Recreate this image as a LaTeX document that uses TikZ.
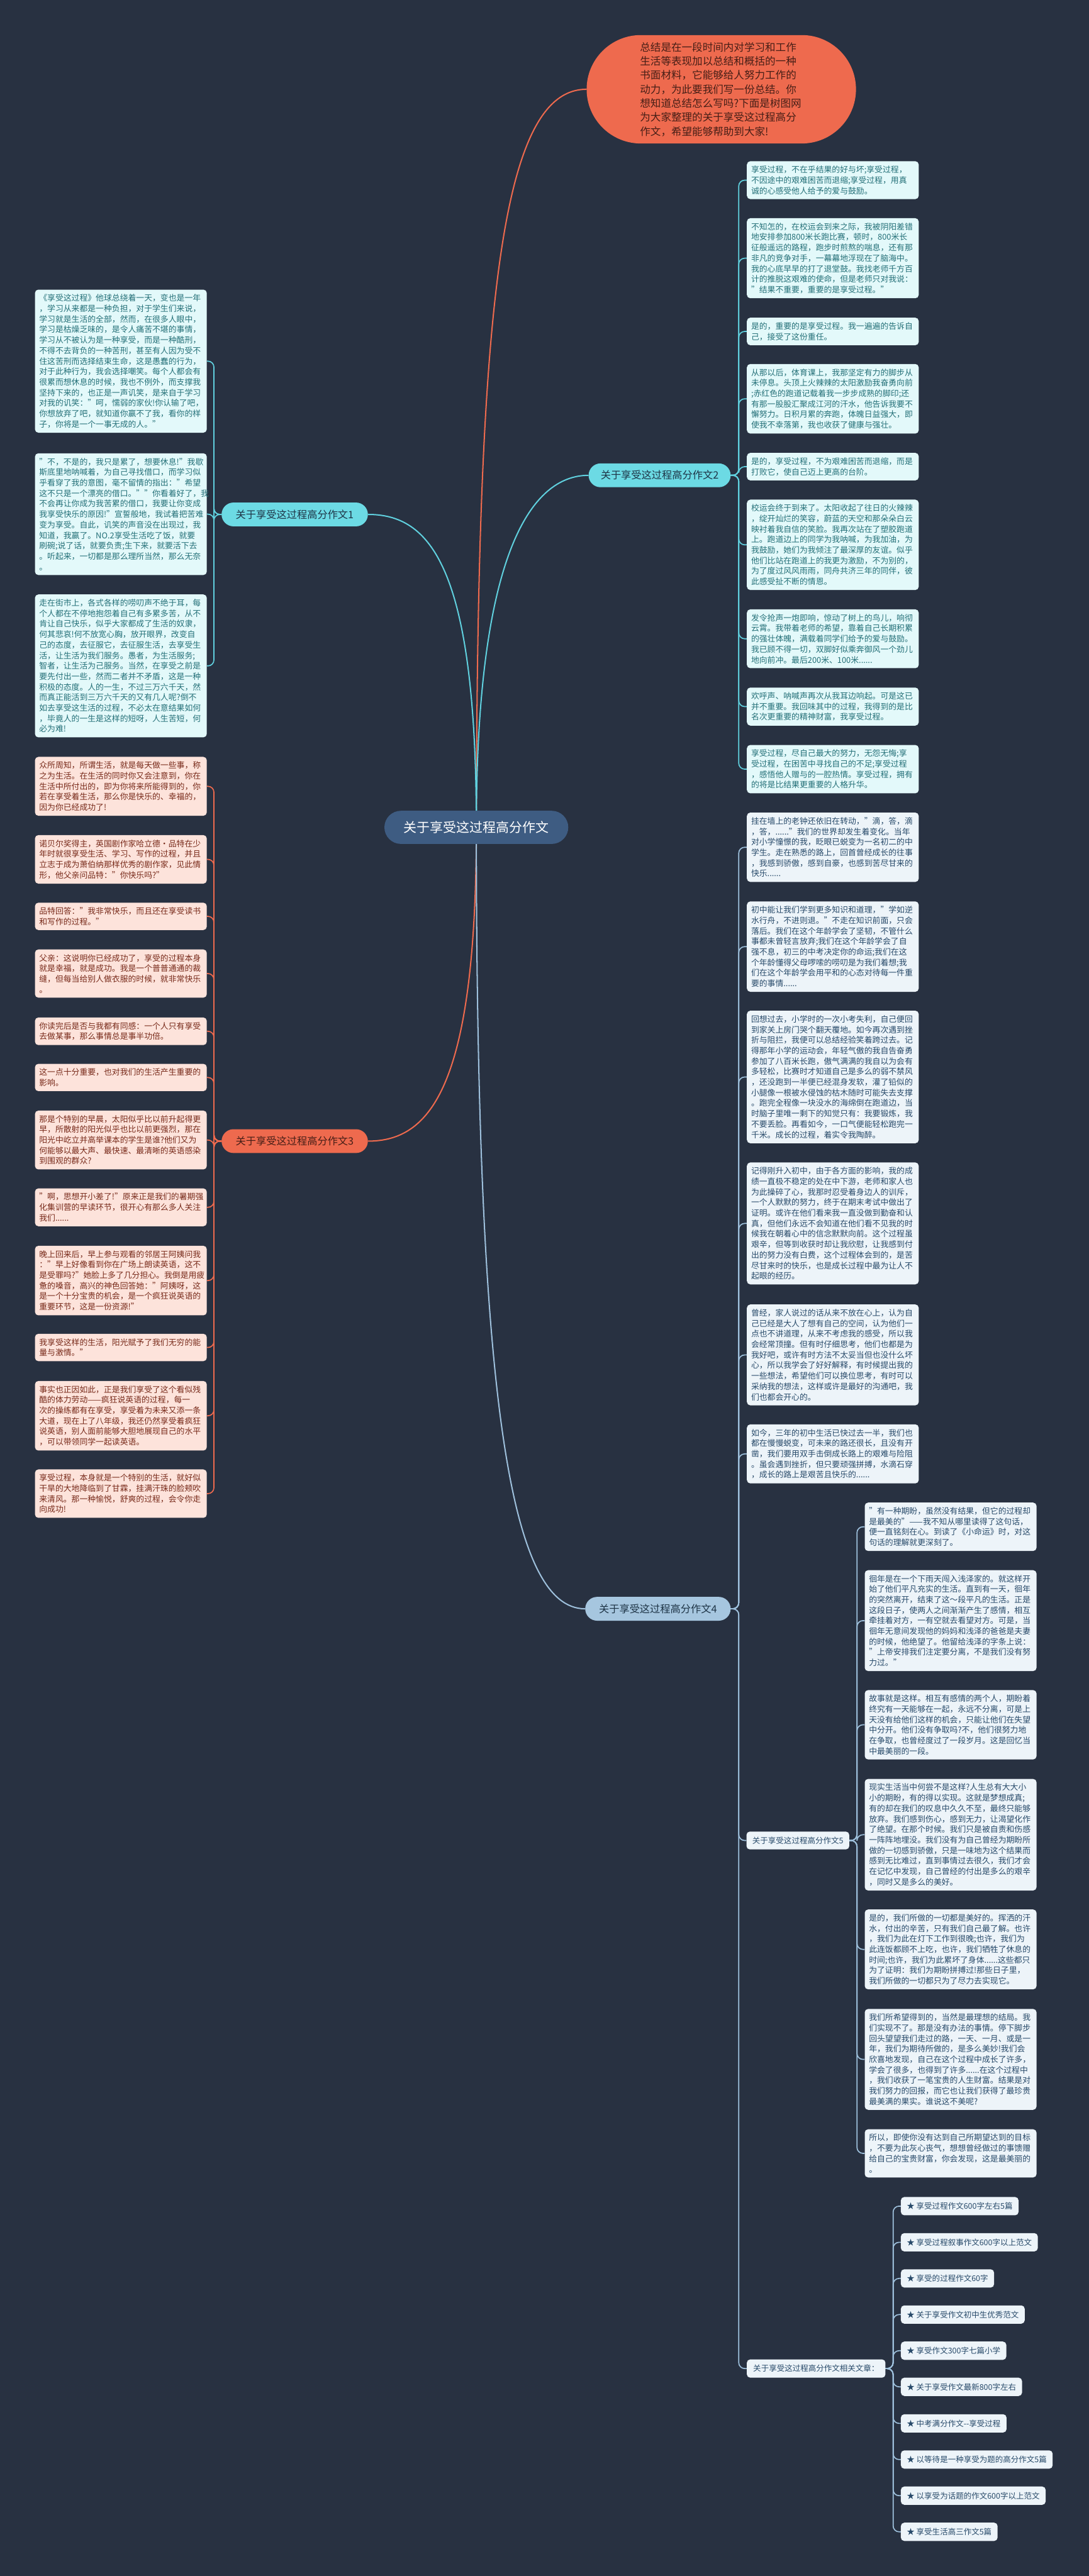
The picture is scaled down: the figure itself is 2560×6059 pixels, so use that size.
\documentclass[tikz,border=0pt]{standalone}
\usepackage{fontspec}
\setmainfont{Noto Sans CJK SC}
\usetikzlibrary{shapes.misc}
\pgfdeclarelayer{back}\pgfdeclarelayer{edges}
\pgfsetlayers{back,edges,main}
\definecolor{bgc}{RGB}{40,49,65}
\definecolor{cfill}{RGB}{62,92,130}
\definecolor{orng}{RGB}{238,106,78}
\definecolor{ortxt}{RGB}{70,30,22}
\definecolor{orfill}{RGB}{253,227,219}
\definecolor{orleaftxt}{RGB}{120,42,26}
\definecolor{cyan1}{RGB}{108,218,228}
\definecolor{cyline}{RGB}{96,208,222}
\definecolor{cyfill}{RGB}{227,249,250}
\definecolor{cytext}{RGB}{36,112,120}
\definecolor{bllabel}{RGB}{166,198,223}
\definecolor{blline}{RGB}{158,192,220}
\definecolor{blfill}{RGB}{237,244,249}
\definecolor{bltext}{RGB}{40,74,106}
\definecolor{labtxt}{RGB}{30,52,70}
\begin{document}
\begin{tikzpicture}[x=1pt,y=-1pt,
  leaf/.style={anchor=north west, rounded corners=8pt, inner xsep=10pt, inner ysep=11pt, text width=384pt, align=left, font=\fontsize{19}{24.7}\selectfont},
  cyleaf/.style={leaf, fill=cyfill, text=cytext},
  orleaf/.style={leaf, fill=orfill, text=orleaftxt},
  blleaf/.style={leaf, fill=blfill, text=bltext},
  pill/.style={rounded rectangle, minimum height=56pt, font=\fontsize{24}{28}\selectfont, inner xsep=0pt},
  smallbox/.style={rounded corners=8pt, fill=blfill, text=bltext, font=\fontsize{18.5}{22}\selectfont, minimum height=43pt, inner xsep=14pt},
  cyedge/.style={draw=cyline, line width=2.5pt, rounded corners=14pt},
  oredge/.style={draw=orng, line width=2.5pt, rounded corners=14pt},
  bledge/.style={draw=blline, line width=2.5pt, rounded corners=14pt},
  mainc/.style={line width=3pt}
]
\useasboundingbox (0,0) rectangle (2560,6059);
\begin{pgfonlayer}{back}
\fill[bgc] (0,0) rectangle (2560,6059);
\end{pgfonlayer}

% central and top nodes
\node[rounded rectangle, fill=cfill, text=white, minimum width=439pt, minimum height=78pt, font=\fontsize{31}{36}\selectfont] (c) at (1120,1946) {关于享受这过程高分作文};
\node[rounded rectangle, fill=orng, text=ortxt, minimum width=640pt, minimum height=255pt, text width=382pt, align=left, font=\fontsize{24.5}{33}\selectfont] (top) at (1696,210) {总结是在一段时间内对学习和工作\\生活等表现加以总结和概括的一种\\书面材料，它能够给人努力工作的\\动力，为此要我们写一份总结。你\\想知道总结怎么写吗?下面是树图网\\为大家整理的关于享受这过程高分\\作文，希望能够帮助到大家!};

% branch labels
\node[pill, fill=cyan1, text=labtxt, minimum width=344pt] (l1) at (693,1210) {关于享受这过程高分作文1};
\node[pill, fill=cyan1, text=labtxt, minimum width=334pt] (l2) at (1551,1118) {关于享受这过程高分作文2};
\node[pill, fill=orng, text=ortxt, minimum width=344pt] (l3) at (693,2684) {关于享受这过程高分作文3};
\node[pill, fill=bllabel, text=labtxt, minimum width=342pt] (l4) at (1547,3784) {关于享受这过程高分作文4};
\node[smallbox, minimum width=241pt, minimum height=42pt] (l5) at (1876,4329) {关于享受这过程高分作文5};
\node[smallbox, minimum width=326pt] (l6) at (1919,5571) {关于享受这过程高分作文相关文章：};

% branch 1 leaves
\node[cyleaf] (a1) at (82,681) {《享受这过程》他球总绕着一天，变也是一年\\，学习从来都是一种负担，对于学生们来说，\\学习就是生活的全部，然而，在很多人眼中，\\学习是枯燥乏味的，是令人痛苦不堪的事情，\\学习从不被认为是一种享受，而是一种酷刑，\\不得不去背负的一种苦刑，甚至有人因为受不\\住这苦刑而选择结束生命，这是愚蠢的行为，\\对于此种行为，我会选择嘲笑。每个人都会有\\很累而想休息的时候，我也不例外，而支撑我\\坚持下来的，也正是一声讥笑，是来自于学习\\对我的讥笑："呵，懦弱的家伙!你认输了吧，\\你想放弃了吧，就知道你赢不了我，看你的样\\子，你将是一个一事无成的人。"};
\node[cyleaf] (a2) at (82,1066) {"不，不是的，我只是累了，想要休息!"我歇\\斯底里地呐喊着，为自己寻找借口，而学习似\\乎看穿了我的意图，毫不留情的指出："希望\\这不只是一个漂亮的借口。""你看着好了，我\\不会再让你成为我苦累的借口，我要让你变成\\我享受快乐的原因!"宣誓般地，我试着把苦难\\变为享受。自此，讥笑的声音没在出现过，我\\知道，我赢了。NO.2享受生活吃了饭，就要\\刷碗;说了话，就要负责;生下来，就要活下去\\。听起来，一切都是那么理所当然，那么无奈\\。};
\node[cyleaf] (a3) at (82,1398) {走在街市上，各式各样的唠叨声不绝于耳，每\\个人都在不停地抱怨着自己有多累多苦，从不\\肯让自己快乐，似乎大家都成了生活的奴隶，\\何其悲哀!何不放宽心胸，放开眼界，改变自\\己的态度，去征服它，去征服生活，去享受生\\活，让生活为我们服务。愚者，为生活服务;\\智者，让生活为己服务。当然，在享受之前是\\要先付出一些，然而二者并不矛盾，这是一种\\积极的态度。人的一生，不过三万六千天，然\\而真正能活到三万六千天的又有几人呢?倒不\\如去享受这生活的过程，不必太在意结果如何\\，毕竟人的一生是这样的短呀，人生苦短，何\\必为难!};

% branch 3 leaves
\node[orleaf] (b1) at (82,1780) {众所周知，所谓生活，就是每天做一些事，称\\之为生活。在生活的同时你又会注意到，你在\\生活中所付出的，即为你将来所能得到的，你\\若在享受着生活，那么你是快乐的、幸福的，\\因为你已经成功了!};
\node[orleaf] (b2) at (82,1964) {诺贝尔奖得主，英国剧作家哈立德·品特在少\\年时就很享受生活、学习、写作的过程，并且\\立志于成为萧伯纳那样优秀的剧作家，见此情\\形，他父亲问品特："你快乐吗?"};
\node[orleaf] (b3) at (82,2123) {品特回答："我非常快乐，而且还在享受读书\\和写作的过程。"};
\node[orleaf] (b4) at (82,2233) {父亲：这说明你已经成功了，享受的过程本身\\就是幸福，就是成功。我是一个普普通通的裁\\缝，但每当给别人做衣服的时候，就非常快乐\\。};
\node[orleaf] (b5) at (82,2393) {你读完后是否与我都有同感：一个人只有享受\\去做某事，那么事情总是事半功倍。};
\node[orleaf] (b6) at (82,2502) {这一点十分重要，也对我们的生活产生重要的\\影响。};
\node[orleaf] (b7) at (82,2612) {那是个特别的早晨，太阳似乎比以前升起得更\\早，所散射的阳光似乎也比以前更强烈，那在\\阳光中屹立并高举课本的学生是谁?他们又为\\何能够以最大声、最快速、最清晰的英语感染\\到围观的群众?};
\node[orleaf] (b8) at (82,2795) {"啊，思想开小差了!"原来正是我们的暑期强\\化集训营的早读环节，很开心有那么多人关注\\我们......};
\node[orleaf] (b9) at (82,2930) {晚上回来后，早上参与观看的邻居王阿姨问我\\："早上好像看到你在广场上朗读英语，这不\\是受罪吗?"她脸上多了几分担心。我倒是用疲\\惫的嗓音，高兴的神色回答她："阿姨呀，这\\是一个十分宝贵的机会，是一个疯狂说英语的\\重要环节，这是一份资源!"};
\node[orleaf] (b10) at (82,3137) {我享受这样的生活，阳光赋予了我们无穷的能\\量与激情。"};
\node[orleaf] (b11) at (82,3248) {事实也正因如此，正是我们享受了这个看似残\\酷的体力劳动——疯狂说英语的过程，每一\\次的操练都有在享受，享受着为未来又添一条\\大道，现在上了八年级，我还仍然享受着疯狂\\说英语，别人面前能够大胆地展现自己的水平\\，可以带领同学一起读英语。};
\node[orleaf] (b12) at (82,3456) {享受过程，本身就是一个特别的生活，就好似\\干旱的大地降临到了甘霖，挂满汗珠的脸颊吹\\来清风。那一种愉悦，舒爽的过程，会令你走\\向成功!};

% branch 2 leaves
\node[cyleaf] (r1) at (1756,379) {享受过程，不在乎结果的好与坏;享受过程，\\不因途中的艰难困苦而退缩;享受过程，用真\\诚的心感受他人给予的爱与鼓励。};
\node[cyleaf] (r2) at (1756,513) {不知怎的，在校运会到来之际，我被阴阳差错\\地安排参加800米长跑比赛，顿时，800米长\\征般遥远的路程，跑步时煎熬的喘息，还有那\\非凡的竞争对手，一幕幕地浮现在了脑海中。\\我的心底早早的打了退堂鼓。我找老师千方百\\计的推脱这艰难的使命，但是老师只对我说：\\"结果不重要，重要的是享受过程。"};
\node[cyleaf] (r3) at (1756,747) {是的，重要的是享受过程。我一遍遍的告诉自\\己，接受了这份重任。};
\node[cyleaf] (r4) at (1756,856) {从那以后，体育课上，我那坚定有力的脚步从\\未停息。头顶上火辣辣的太阳激励我奋勇向前\\;赤红色的跑道记载着我一步步成熟的脚印;还\\有那一股股汇聚成江河的汗水，他告诉我要不\\懈努力。日积月累的奔跑，体魄日益强大，即\\使我不幸落第，我也收获了健康与强壮。};
\node[cyleaf] (r5) at (1756,1065) {是的，享受过程，不为艰难困苦而退缩，而是\\打败它，使自己迈上更高的台阶。};
\node[cyleaf] (r6) at (1756,1175) {校运会终于到来了。太阳收起了往日的火辣辣\\，绽开灿烂的笑容，蔚蓝的天空和那朵朵白云\\映衬着我自信的笑脸。我再次站在了塑胶跑道\\上。跑道边上的同学为我呐喊，为我加油，为\\我鼓励，她们为我倾注了最深厚的友谊。似乎\\他们比站在跑道上的我更为激励，不为别的，\\为了度过风风雨雨，同舟共济三年的同伴，彼\\此感受扯不断的情恩。};
\node[cyleaf] (r7) at (1756,1433) {发令抢声一炮即响，惊动了树上的鸟儿，响彻\\云霄。我带着老师的希望，靠着自己长期积累\\的强壮体魄，满载着同学们给予的爱与鼓励。\\我已顾不得一切，双脚好似乘奔御风一个劲儿\\地向前冲。最后200米、100米......};
\node[cyleaf] (r8) at (1756,1617) {欢呼声、呐喊声再次从我耳边响起。可是这已\\并不重要。我回味其中的过程，我得到的是比\\名次更重要的精神财富，我享受过程。};
\node[cyleaf] (r9) at (1756,1752) {享受过程，尽自己最大的努力，无怨无悔;享\\受过程，在困苦中寻找自己的不足;享受过程\\，感悟他人赠与的一腔热情。享受过程，拥有\\的将是比结果更重要的人格升华。};

% branch 4 leaves
\node[blleaf] (d1) at (1756,1911) {挂在墙上的老钟还依旧在转动，"滴，答，滴\\，答，......"我们的世界却发生着变化。当年\\对小学憧憬的我，眨眼已蜕变为一名初二的中\\学生。走在熟悉的路上，回首曾经成长的往事\\，我感到骄傲，感到自豪，也感到苦尽甘来的\\快乐......};
\node[blleaf] (d2) at (1756,2120) {初中能让我们学到更多知识和道理，"学如逆\\水行舟，不进则退。"不走在知识前面，只会\\落后。我们在这个年龄学会了坚韧，不管什么\\事都未曾轻言放弃;我们在这个年龄学会了自\\强不息，初三的中考决定你的命运;我们在这\\个年龄懂得父母啰嗦的唠叨是为我们着想;我\\们在这个年龄学会用平和的心态对待每一件重\\要的事情......};
\node[blleaf] (d3) at (1756,2377) {回想过去，小学时的一次小考失利，自己便回\\到家关上房门哭个翻天覆地。如今再次遇到挫\\折与阻拦，我便可以总结经验笑着跨过去。记\\得那年小学的运动会，年轻气傲的我自告奋勇\\参加了八百米长跑，傲气满满的我自以为会有\\多轻松，比赛时才知道自己是多么的弱不禁风\\，还没跑到一半便已经混身发软，灌了铅似的\\小腿像一根被水侵蚀的枯木随时可能失去支撑\\。跑完全程像一块没水的海绵倒在跑道边，当\\时脑子里唯一剩下的知觉只有：我要锻炼，我\\不要丢脸。再看如今，一口气便能轻松跑完一\\千米。成长的过程，着实令我陶醉。};
\node[blleaf] (d4) at (1756,2734) {记得刚升入初中，由于各方面的影响，我的成\\绩一直极不稳定的处在中下游，老师和家人也\\为此操碎了心，我那时忍受着身边人的训斥，\\一个人默默的努力，终于在期末考试中做出了\\证明。或许在他们看来我一直没做到勤奋和认\\真，但他们永远不会知道在他们看不见我的时\\候我在朝着心中的信念默默向前。这个过程虽\\艰辛，但等到收获时却让我欣慰，让我感到付\\出的努力没有白费，这个过程体会到的，是苦\\尽甘来时的快乐，也是成长过程中最为让人不\\起眼的经历。};
\node[blleaf] (d5) at (1756,3068) {曾经，家人说过的话从来不放在心上，认为自\\己已经是大人了想有自己的空间，认为他们一\\点也不讲道理，从来不考虑我的感受，所以我\\会经常顶撞。但有时仔细思考，他们也都是为\\我好吧，或许有时方法不太妥当但也没什么坏\\心，所以我学会了好好解释，有时候提出我的\\一些想法，希望他们可以换位思考，有时可以\\采纳我的想法，这样或许是最好的沟通吧，我\\们也都会开心的。};
\node[blleaf] (d6) at (1756,3350) {如今，三年的初中生活已快过去一半，我们也\\都在慢慢蜕变，可未来的路还很长，且没有开\\凿，我们要用双手击倒成长路上的艰难与险阻\\。虽会遇到挫折，但只要顽强拼搏，水滴石穿\\，成长的路上是艰苦且快乐的......};

% branch 5 leaves
\node[blleaf] (s1) at (2033,3534) {"有一种期盼，虽然没有结果，但它的过程却\\是最美的"——我不知从哪里读得了这句话，\\便一直铭刻在心。到读了《小命运》时，对这\\句话的理解就更深刻了。};
\node[blleaf] (s2) at (2033,3693) {徊年是在一个下雨天闯入浅泽家的。就这样开\\始了他们平凡充实的生活。直到有一天，徊年\\的突然离开，结束了这～段平凡的生活。正是\\这段日子，使两人之间渐渐产生了感情，相互\\牵挂着对方，一有空就去看望对方。可是，当\\徊年无意间发现他的妈妈和浅泽的爸爸是夫妻\\的时候，他绝望了。他留给浅泽的字条上说：\\"上帝安排我们注定要分离，不是我们没有努\\力过。"};
\node[blleaf] (s3) at (2033,3975) {故事就是这样。相互有感情的两个人，期盼着\\终究有一天能够在一起，永远不分离，可是上\\天没有给他们这样的机会，只能让他们在失望\\中分开。他们没有争取吗?不，他们很努力地\\在争取，也曾经度过了一段岁月。这是回忆当\\中最美丽的一段。};
\node[blleaf] (s4) at (2033,4184) {现实生活当中何尝不是这样?人生总有大大小\\小的期盼，有的得以实现。这就是梦想成真;\\有的却在我们的叹息中久久不至，最终只能够\\放弃。我们感到伤心，感到无力，让渴望化作\\了绝望。在那个时候。我们只是被自责和伤感\\一阵阵地埋没。我们没有为自己曾经为期盼所\\做的一切感到骄傲，只是一味地为这个结果而\\感到无比难过，直到事情过去很久，我们才会\\在记忆中发现，自己曾经的付出是多么的艰辛\\，同时又是多么的美好。};
\node[blleaf] (s5) at (2033,4491) {是的，我们所做的一切都是美好的。挥洒的汗\\水，付出的辛苦，只有我们自己最了解。也许\\，我们为此在灯下工作到很晚;也许，我们为\\此连饭都顾不上吃，也许，我们牺牲了休息的\\时间;也许，我们为此累坏了身体......这些都只\\为了证明：我们为期盼拼搏过!那些日子里，\\我们所做的一切都只为了尽力去实现它。};
\node[blleaf] (s6) at (2033,4725) {我们所希望得到的，当然是最理想的结局。我\\们实现不了。那是没有办法的事情。停下脚步\\回头望望我们走过的路，一天、一月、或是一\\年，我们为期待所做的，是多么美妙!我们会\\欣喜地发现，自己在这个过程中成长了许多，\\学会了很多，也得到了许多......在这个过程中\\，我们收获了一笔宝贵的人生财富。结果是对\\我们努力的回报，而它也让我们获得了最珍贵\\最美满的果实。谁说这不美呢?};
\node[blleaf] (s7) at (2033,5008) {所以，即使你没有达到自己所期望达到的目标\\，不要为此灰心丧气，想想曾经做过的事馈赠\\给自己的宝贵财富，你会发现，这是最美丽的\\。};

% related list
\node[smallbox, anchor=west] (t1) at (2118,5189) {★ 享受过程作文600字左右5篇};
\node[smallbox, anchor=west] (t2) at (2118,5274) {★ 享受过程叙事作文600字以上范文};
\node[smallbox, anchor=west] (t3) at (2118,5359) {★ 享受的过程作文60字};
\node[smallbox, anchor=west] (t4) at (2118,5444) {★ 关于享受作文初中生优秀范文};
\node[smallbox, anchor=west] (t5) at (2118,5529) {★ 享受作文300字七篇小学};
\node[smallbox, anchor=west] (t6) at (2118,5614) {★ 关于享受作文最新800字左右};
\node[smallbox, anchor=west] (t7) at (2118,5700) {★ 中考满分作文-{}-享受过程};
\node[smallbox, anchor=west] (t8) at (2118,5785) {★ 以等待是一种享受为题的高分作文5篇};
\node[smallbox, anchor=west] (t9) at (2118,5870) {★ 以享受为话题的作文600字以上范文};
\node[smallbox, anchor=west] (t10) at (2118,5955) {★ 享受生活高三作文5篇};

% bracket points
\coordinate (k1) at (503,1210);
\coordinate (k3) at (503,2684);
\coordinate (k2) at (1737,1118);
\coordinate (k4) at (1737,3784);
\coordinate (k5) at (2015,4329);
\coordinate (k6) at (2100,5571);

\begin{pgfonlayer}{edges}
% main curves
\draw[mainc, draw=orng] (c.center) .. controls (1122,700) and (1180,210) .. (top.west);
\draw[mainc, draw=cyline] (c.center) .. controls (1120,1300) and (1250,1118) .. (l2.west);
\draw[mainc, draw=cyline] (c.center) .. controls (1120,1330) and (1010,1210) .. (l1.east);
\draw[mainc, draw=orng] (c.center) .. controls (1120,2560) and (1010,2684) .. (l3.east);
\draw[mainc, draw=blline] (c.center) .. controls (1120,3300) and (1200,3784) .. (l4.west);
% branch 1
\foreach \n in {a1,a2,a3} {\draw[cyedge] (l1.west) -- (k1) |- (\n.east);}
% branch 3
\foreach \n in {b1,b2,b3,b4,b5,b6,b7,b8,b9,b10,b11,b12} {\draw[oredge] (l3.west) -- (k3) |- (\n.east);}
% branch 2
\foreach \n in {r1,r2,r3,r4,r5,r6,r7,r8,r9} {\draw[cyedge] (l2.east) -- (k2) |- (\n.west);}
% branch 4
\foreach \n in {d1,d2,d3,d4,d5,d6,l5,l6} {\draw[bledge] (l4.east) -- (k4) |- (\n.west);}
% branch 5
\foreach \n in {s1,s2,s3,s4,s5,s6,s7} {\draw[bledge] (l5.east) -- (k5) |- (\n.west);}
% related
\foreach \n in {t1,t2,t3,t4,t5,t6,t7,t8,t9,t10} {\draw[bledge] (l6.east) -- (k6) |- (\n.west);}
\end{pgfonlayer}
\end{tikzpicture}
\end{document}
